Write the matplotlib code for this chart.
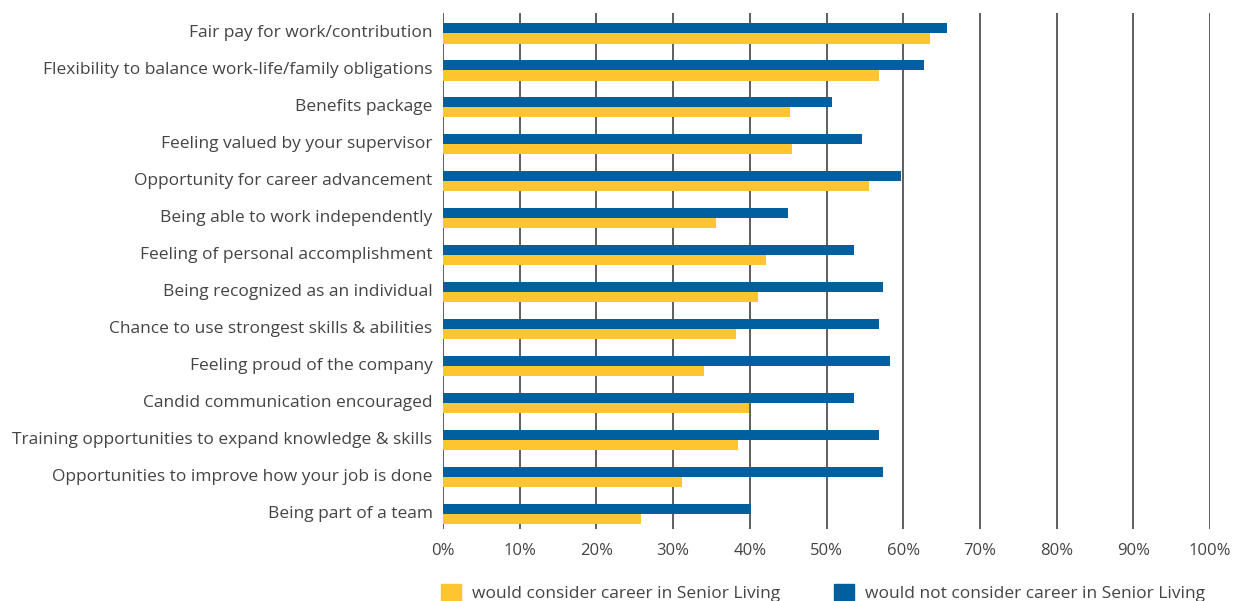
import matplotlib
matplotlib.use("Agg")
import numpy as np
import matplotlib.pyplot as plt
from matplotlib.patches import Patch

categories = [
    "Fair pay for work/contribution",
    "Flexibility to balance work-life/family obligations",
    "Benefits package",
    "Feeling valued by your supervisor",
    "Opportunity for career advancement",
    "Being able to work independently",
    "Feeling of personal accomplishment",
    "Being recognized as an individual",
    "Chance to use strongest skills & abilities",
    "Feeling proud of the company",
    "Candid communication encouraged",
    "Training opportunities to expand knowledge & skills",
    "Opportunities to improve how your job is done",
    "Being part of a team",
]
would_consider = [63.5, 56.8, 45.2, 45.5, 55.5, 35.6, 42.1, 41.1, 38.2, 34.0, 39.9, 38.5, 31.2, 25.8]
would_not_consider = [65.7, 62.7, 50.7, 54.6, 59.7, 45.0, 53.6, 57.4, 56.8, 58.3, 53.6, 56.8, 57.4, 40.2]
xticks = [0, 10, 20, 30, 40, 50, 60, 70, 80, 90, 100]

YELLOW = "#fdc52f"
BLUE = "#00609f"
TEXT = "#444444"

plt.rcParams["font.family"] = ["Open Sans", "DejaVu Sans"]

fig = plt.figure(figsize=(12.5, 6.01), dpi=100)
ax = fig.add_axes([443/1250, 1-529/601, 767/1250, 516/601])

y = np.arange(len(categories))
h = 0.28
ax.barh(y - 0.135, would_not_consider, height=h, color=BLUE, zorder=3)
ax.barh(y + 0.145, would_consider, height=h, color=YELLOW, zorder=3)

ax.set_xlim(0, 100)
ax.set_ylim(13.41, -0.54)
ax.set_xticks(xticks)
ax.set_xticklabels([f"{t}%" for t in xticks])
ax.set_yticks(y - 0.04)
ax.set_yticklabels(categories)
ax.tick_params(axis="both", length=0, labelsize=12.5, labelcolor=TEXT)
ax.tick_params(axis="x", labelsize=12, pad=10)
ax.tick_params(axis="y", pad=7.5)
for s in ax.spines.values():
    s.set_visible(False)
ax.set_axisbelow(True)
ax.xaxis.grid(True, color="#333333", lw=1.1)
ax.yaxis.grid(False)

handles = [Patch(color=YELLOW, label="would consider career in Senior Living"),
           Patch(color=BLUE, label="would not consider career in Senior Living")]
fig.legend(handles=handles, loc="upper left", bbox_to_anchor=(441/1250, 1-584/601),
           ncol=2, frameon=False, fontsize=12.5, labelcolor=TEXT,
           handlelength=1.15, handleheight=1.15, handletextpad=0.65, columnspacing=3.1,
           borderaxespad=0, borderpad=0)

fig.savefig("out.png", dpi=100)
